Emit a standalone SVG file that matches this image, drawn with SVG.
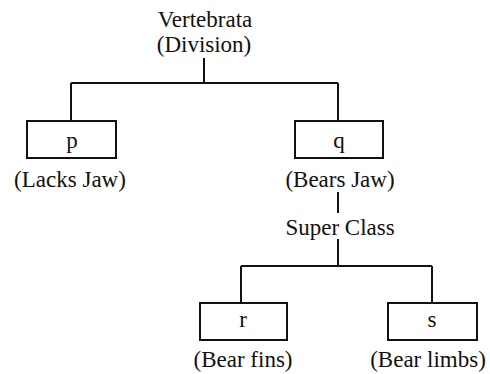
<svg xmlns="http://www.w3.org/2000/svg" width="490" height="374" viewBox="0 0 490 374">
<style>
text{font-family:"Liberation Serif","Times New Roman",serif;font-size:23px;fill:#111;text-anchor:middle}
.box{fill:#fff;stroke:#111;stroke-width:2}
.ln{fill:none;stroke:#111;stroke-width:2}
</style>
<rect width="490" height="374" fill="#fff"/>
<g id="connectors">
<path class="ln" d="M204,58V83M71,83H338M71,83V121M338,83V121"/>
<path class="ln" d="M338,192V213M338,239V266M241,266H432M241,266V303M432,266V303"/>
</g>
<g id="vertebrata"><text x="205" y="27">Vertebrata</text><text x="204" y="52">(Division)</text></g>
<g id="p"><rect class="box" x="27" y="121" width="89" height="37"/><text x="72" y="148">p</text><text x="70" y="187">(Lacks Jaw)</text></g>
<g id="q"><rect class="box" x="295" y="121" width="88" height="37"/><text x="339" y="148">q</text><text x="340" y="187">(Bears Jaw)</text></g>
<g id="superclass"><text x="340" y="235">Super Class</text></g>
<g id="r"><rect class="box" x="200" y="303" width="87" height="37"/><text x="243" y="327">r</text><text x="243" y="367">(Bear fins)</text></g>
<g id="s"><rect class="box" x="388" y="303" width="89" height="37"/><text x="432" y="327">s</text><text x="428" y="367">(Bear limbs)</text></g>
</svg>
